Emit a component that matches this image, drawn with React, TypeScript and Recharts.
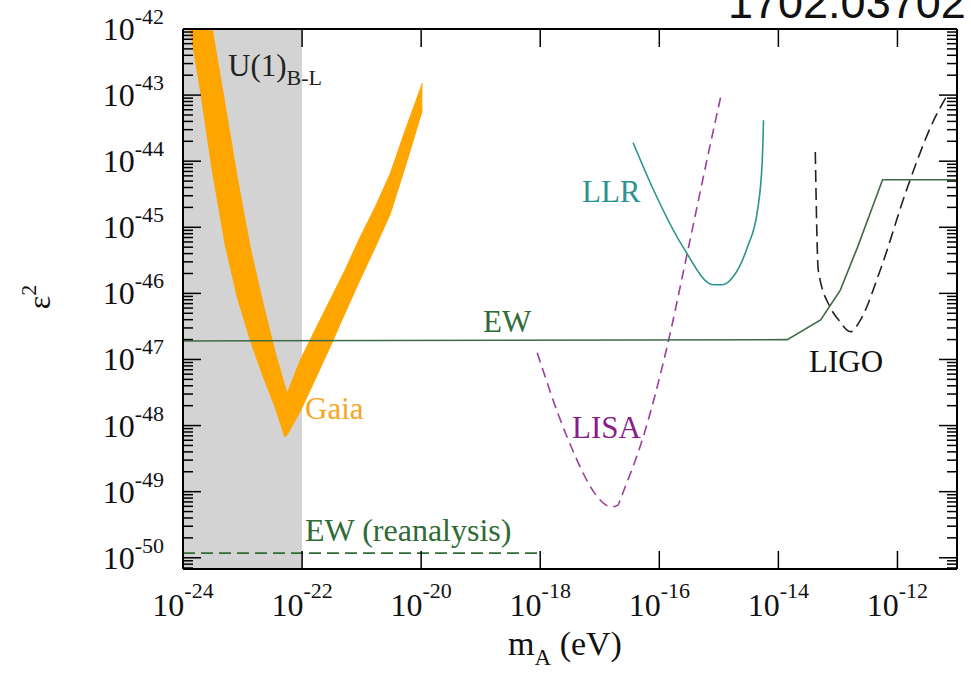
import React from "react";
import {
  ComposedChart,
  Area,
  Line,
  XAxis,
  YAxis,
  ReferenceArea,
} from "recharts";

// all values are log10: x = log10(m_A / eV), y = log10(eps^2)
const X_MIN = -24;
const X_MAX = -11;
const Y_MIN = -50.17;
const Y_MAX = -42;

const xMajor = [-24, -22, -20, -18, -16, -14, -12];
const yMajor = [-50, -49, -48, -47, -46, -45, -44, -43, -42];
const minorMult = [2, 3, 4, 5, 6, 7, 8, 9];

// Gaia band (lower / upper edge)
const gaiaX = [-23.88, -23.71, -23.51, -23.29, -23.09, -22.87, -22.67, -22.45, -22.29, -22.25, -22.03, -21.78, -21.53, -21.28, -21.03, -20.77, -20.52, -20.27, -19.98];
const gaiaLow = [-42.0, -42.92, -44.13, -45.27, -46.05, -46.71, -47.22, -47.73, -48.17, -48.14, -47.78, -47.3, -46.81, -46.3, -45.8, -45.3, -44.8, -44.09, -43.23];
const gaiaHigh = [-42.0, -42.0, -42.0, -43.16, -44.24, -45.31, -46.1, -46.9, -47.4, -47.51, -47.01, -46.55, -46.1, -45.65, -45.16, -44.69, -44.19, -43.54, -42.82];

// EW
const ewX = [-24, -13.85, -13.29, -12.96, -12.67, -12.25, -11];
const ewY = [-46.72, -46.7, -46.4, -45.95, -45.3, -44.28, -44.28];

// EW (reanalysis)
const ewReX = [-24, -17.95];
const ewReY = [-49.93, -49.93];

// LISA
const lisaX = [-18.05, -17.55, -16.99, -16.9, -16.79, -16.69, -16.66, -16.27, -15.87, -15.53, -15.19, -14.97];
const lisaY = [-46.9, -48.17, -49.13, -49.2, -49.23, -49.2, -49.13, -48.17, -46.81, -45.39, -43.94, -43.03];

// LLR
const llrX = [-16.44, -16.12, -15.6, -15.09, -14.94, -14.76, -14.52, -14.35, -14.27, -14.25];
const llrY = [-43.72, -44.39, -45.3, -45.87, -45.87, -45.75, -45.3, -44.74, -43.98, -43.38];

// LIGO
const ligoX = [-13.38, -13.33, -13.13, -12.99, -12.79, -12.62, -12.29, -11.83, -11.39, -11.19];
const ligoY = [-43.86, -45.65, -46.21, -46.4, -46.58, -46.4, -45.65, -44.39, -43.38, -43.04];

const gaiaData = gaiaX.map((x, i) => ({ x, band: [gaiaLow[i], gaiaHigh[i]] }));
const ewData = ewX.map((x, i) => ({ x, y: ewY[i] }));
const ewReData = ewReX.map((x, i) => ({ x, y: ewReY[i] }));
const lisaData = lisaX.map((x, i) => ({ x, y: lisaY[i] }));
const llrData = llrX.map((x, i) => ({ x, y: llrY[i] }));
const ligoData = ligoX.map((x, i) => ({ x, y: ligoY[i] }));

// log minor ticks 2..9 x 10^n
const yMinor: number[] = [];
for (let n = -51; n < -42; n++) {
  minorMult.forEach((k) => {
    const v = n + Math.log10(k);
    if (v > Y_MIN && v < Y_MAX) yMinor.push(v);
  });
}

// plot box (left axis 183 wide, right 14, top 29, bottom 105)
const W = 971;
const H = 674;
const PL = 183;
const PR = W - 14;
const PT = 29;
const PB = H - 105;
const px = (v: number) => PL + ((v - X_MIN) / (X_MAX - X_MIN)) * (PR - PL);
const py = (v: number) => PB - ((v - Y_MIN) / (Y_MAX - Y_MIN)) * (PB - PT);

const FONT = "'Liberation Serif', 'Times New Roman', serif";
const frame = { stroke: "#000", strokeWidth: 2 };

const LeftLabel = (props: any) => {
  const { x, y, payload } = props;
  return (
    <text x={x - 19} y={y + 11} textAnchor="end" fontFamily={FONT} fontSize={32} fill="#111">
      10<tspan dy={-16} fontSize={22}>{payload.value}</tspan>
    </text>
  );
};

const BottomLabel = (props: any) => {
  const { x, y, payload } = props;
  return (
    <text x={x} y={y + 47} textAnchor="middle" fontFamily={FONT} fontSize={32} fill="#111">
      10<tspan dy={-18} fontSize={22}>{payload.value}</tspan>
    </text>
  );
};

// inward tick marks on all four sides
const TickMarks = () => (
  <g stroke="#000" strokeWidth={1.5}>
    {yMajor.map((v) => (
      <g key={`ym${v}`}>
        <line x1={PL} x2={PL + 18} y1={py(v)} y2={py(v)} />
        <line x1={PR} x2={PR - 18} y1={py(v)} y2={py(v)} />
      </g>
    ))}
    {yMinor.map((v) => (
      <g key={`yn${v}`}>
        <line x1={PL} x2={PL + 10} y1={py(v)} y2={py(v)} />
        <line x1={PR} x2={PR - 10} y1={py(v)} y2={py(v)} />
      </g>
    ))}
    {xMajor.map((v) => (
      <g key={`xm${v}`}>
        <line x1={px(v)} x2={px(v)} y1={PB} y2={PB - 18} />
        <line x1={px(v)} x2={px(v)} y1={PT} y2={PT + 18} />
      </g>
    ))}
  </g>
);

const App = () => {
  return (
    <div style={{ position: "fixed", left: 0, top: 0, width: W, height: H, background: "#fff" }}>
      <ComposedChart width={W} height={H} margin={{ top: 0, right: 0, bottom: 0, left: 0 }}>
        <ReferenceArea
          x1={-24}
          x2={-22}
          y1={Y_MIN}
          y2={Y_MAX}
          fill="#d3d3d3"
          fillOpacity={1}
          stroke="none"
        />
        <Area
          data={gaiaData}
          dataKey="band"
          type="linear"
          fill="#ffa500"
          fillOpacity={1}
          stroke="#ffa500"
          strokeWidth={1}
          isAnimationActive={false}
        />
        <Line data={ewReData} dataKey="y" type="linear" stroke="#2e6b35" strokeWidth={1.6} strokeDasharray="12 6" dot={false} isAnimationActive={false} />
        <Line data={lisaData} dataKey="y" type="monotone" stroke="#9b3f9b" strokeWidth={1.6} strokeDasharray="10 6" dot={false} isAnimationActive={false} />
        <Line data={llrData} dataKey="y" type="monotone" stroke="#2a9490" strokeWidth={1.6} dot={false} isAnimationActive={false} />
        <Line data={ligoData} dataKey="y" type="monotone" stroke="#222" strokeWidth={1.6} strokeDasharray="12 6" dot={false} isAnimationActive={false} />
        <Line data={ewData} dataKey="y" type="linear" stroke="#3d6b45" strokeWidth={1.6} dot={false} isAnimationActive={false} />

        <XAxis
          xAxisId={0}
          type="number"
          dataKey="x"
          domain={[X_MIN, X_MAX]}
          ticks={xMajor}
          interval={0}
          allowDataOverflow
          height={105}
          tickSize={0}
          tickMargin={0}
          tickLine={false}
          tick={(p: any) => <BottomLabel {...p} />}
          axisLine={frame}
        />
        <XAxis
          xAxisId="top"
          orientation="top"
          type="number"
          domain={[X_MIN, X_MAX]}
          ticks={xMajor}
          allowDataOverflow
          height={29}
          tick={false}
          tickLine={false}
          axisLine={frame}
        />
        <YAxis
          yAxisId={0}
          type="number"
          domain={[Y_MIN, Y_MAX]}
          ticks={yMajor}
          interval={0}
          allowDataOverflow
          width={183}
          tickSize={0}
          tickMargin={0}
          tickLine={false}
          tick={(p: any) => <LeftLabel {...p} />}
          axisLine={frame}
        />
        <YAxis
          yAxisId="right"
          orientation="right"
          type="number"
          domain={[Y_MIN, Y_MAX]}
          ticks={yMajor}
          allowDataOverflow
          width={14}
          tick={false}
          tickLine={false}
          axisLine={frame}
        />
      </ComposedChart>
      <svg
        width={W}
        height={H}
        style={{ position: "absolute", left: 0, top: 0, pointerEvents: "none" }}
        fontFamily={FONT}
      >
        <TickMarks />
        <text x={728} y={18} fontFamily="'Liberation Sans', Arial, sans-serif" fontSize={45} fill="#111">1702.03702</text>
        <text x={228} y={76} fontSize={31} fill="#222">
          U(1)<tspan dy={9} fontSize={22}>B-L</tspan>
        </text>
        <text x={305} y={419} fontSize={31} fill="#f5a623">Gaia</text>
        <text x={483} y={332} fontSize={31} fill="#2e6b35">EW</text>
        <text x={582} y={202} fontSize={31} fill="#2a9490">LLR</text>
        <text x={572} y={438} fontSize={31} fill="#8a1c8a">LISA</text>
        <text x={809} y={372} fontSize={31} fill="#111">LIGO</text>
        <text x={305} y={541} fontSize={32} fill="#2e6b35">EW (reanalysis)</text>
        <text x={565} y={655} textAnchor="middle" fontSize={34} fill="#111">
          m<tspan dy={10} fontSize={23}>A</tspan>
          <tspan dy={-10}> (eV)</tspan>
        </text>
        <text transform="translate(50,297) rotate(-90)" textAnchor="middle" fontSize={32} fill="#111">
          ε<tspan dy={-14} fontSize={22}>2</tspan>
        </text>
      </svg>
    </div>
  );
};

export default App;
